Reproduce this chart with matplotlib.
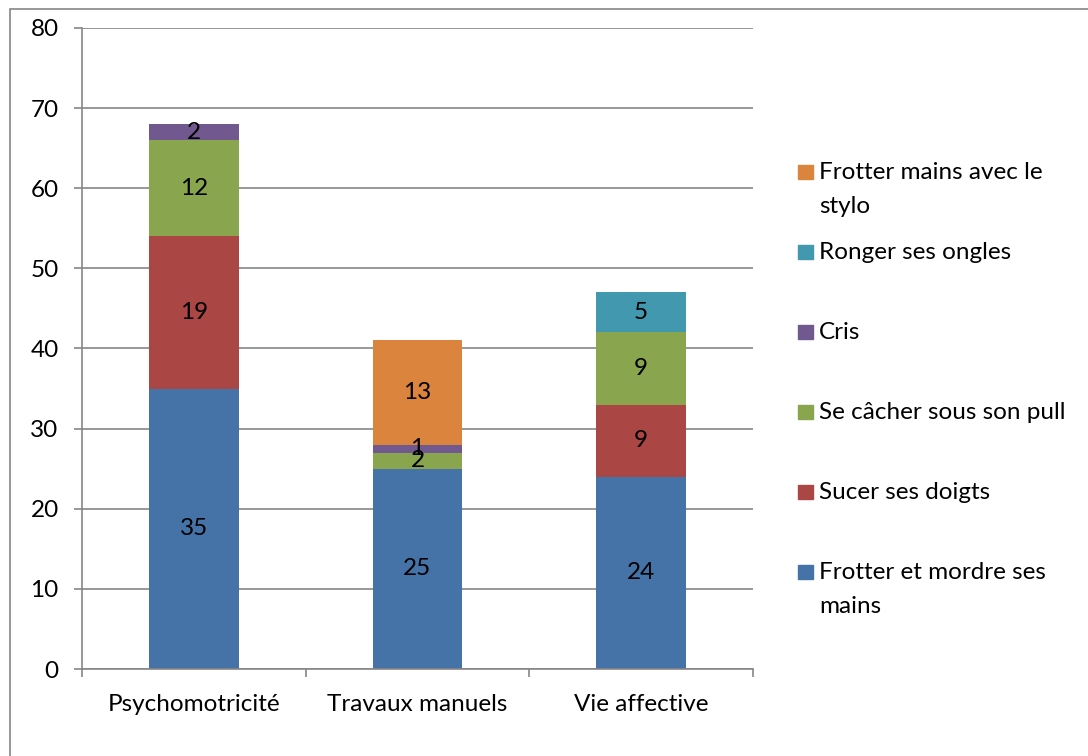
import numpy as np
import matplotlib.pyplot as plt
from matplotlib.patches import Rectangle

plt.rcParams['font.family'] = ['Lato', 'DejaVu Sans']

categories = ["Psychomotricité", "Travaux manuels", "Vie affective"]

# séries empilées de bas en haut
series = ["Frotter et mordre ses\nmains", "Sucer ses doigts", "Se câcher sous son pull",
          "Cris", "Ronger ses ongles", "Frotter mains avec le\nstylo"]
frotter_mordre = [35, 25, 24]
sucer = [19, 0, 9]
cacher = [12, 2, 9]
cris = [2, 1, 0]
ronger = [0, 0, 5]
frotter_stylo = [0, 13, 0]
valeurs = [frotter_mordre, sucer, cacher, cris, ronger, frotter_stylo]

couleurs = ["#4572A7", "#AA4643", "#89A54E", "#71588F", "#4198AF", "#DB843D"]

fs = 17.5
W, H = 1088, 756
fig = plt.figure(figsize=(W / 100, H / 100), dpi=100)
ax = fig.add_axes([82 / W, (H - 669) / H, (753 - 82) / W, (669 - 28) / H])

x = np.arange(len(categories))
bas = np.zeros(len(categories))
for nom, v, c in zip(series, valeurs, couleurs):
    v = np.array(v, dtype=float)
    ax.bar(x, v, 0.4, bottom=bas, color=c, zorder=2)
    for xi, b, vi in zip(x, bas, v):
        if vi > 0:
            ax.text(xi, b + vi / 2, str(int(vi)), ha="center", va="center",
                    fontsize=fs, color="black", zorder=3)
    bas += v

ax.set_xlim(-0.5, 2.5)
ax.set_ylim(0, 80)
ax.set_yticks(range(0, 81, 10))
ax.yaxis.grid(True, color="#868686", linewidth=1.2, zorder=0)
ax.set_xticks([])
ax.set_xticks([-0.5, 0.5, 1.5, 2.5], minor=True)
ax.tick_params(axis="x", which="minor", length=5.8, color="#868686", width=1.2)
ax.tick_params(axis="y", length=5.8, color="#868686", width=1.2, labelsize=fs, pad=11)
for xi, cat in zip(x, categories):
    ax.text(xi, -4.4, cat, ha="center", va="center", fontsize=fs)

for s in ["top", "right"]:
    ax.spines[s].set_visible(False)
for s in ["left", "bottom"]:
    ax.spines[s].set_color("#868686")
    ax.spines[s].set_linewidth(1.2)

# légende à droite, ordre inversé
y_leg = [172, 252, 332, 412, 492, 572]
for yl, nom, c in zip(y_leg, series[::-1], couleurs[::-1]):
    fig.patches.append(Rectangle((798 / W, 1 - (yl + 7) / H), 15 / W, 14 / H,
                                 transform=fig.transFigure, color=c))
    fig.text(819 / W, 1 - (yl - 10) / H, nom, ha="left", va="top",
             fontsize=fs, linespacing=1.75)

# cadre du graphique
fig.patches.append(Rectangle((10 / W, -0.1), 1.2, 1 - 9 / H + 0.1,
                             transform=fig.transFigure, fill=False,
                             edgecolor="#868686", linewidth=1.2))

fig.savefig("out.png", dpi=100)
